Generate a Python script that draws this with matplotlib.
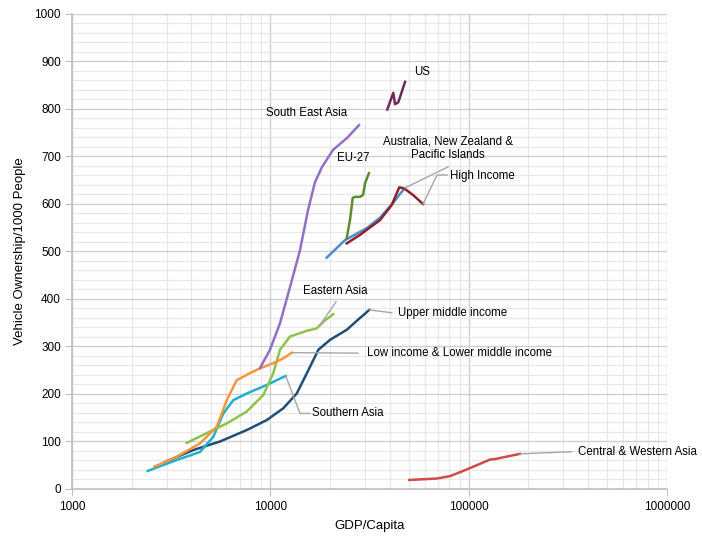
import matplotlib.pyplot as plt
from matplotlib.ticker import FixedLocator, NullFormatter

plt.rcParams['font.family'] = ['Liberation Sans', 'DejaVu Sans']

# GDP per capita vs vehicles per 1000 people, one trajectory per region
us_gdp = [38900, 41700, 42560, 44200, 47800]
us_veh = [799, 834, 810, 814, 857]

sea_gdp = [8880, 9960, 11190, 12570, 14120, 15490, 16800, 18230, 20720, 24370, 28010]
sea_veh = [255, 293, 349, 425, 503, 587, 646, 678, 714, 739, 766]

eu_gdp = [24270, 25220, 26040, 26740, 28330, 29360, 30040, 31450]
eu_veh = [528, 566, 613, 615, 615, 619, 644, 665]

anz_gdp = [19240, 23810, 30620, 35730, 41560, 46680]
anz_veh = [487, 524, 549, 571, 602, 629]

hi_gdp = [24270, 28330, 35730, 40970, 44690, 47240, 52430, 58890]
hi_veh = [517, 535, 566, 598, 635, 633, 619, 600]

ea_gdp = [3787, 4966, 6030, 7603, 9220, 10350, 11190, 12570, 15260, 17140, 18500, 20780]
ea_veh = [97, 121, 138, 163, 198, 244, 293, 321, 333, 338, 352, 368]

low_gdp = [2600, 3373, 4422, 5367, 6030, 6767, 7900, 8875, 10360, 11630, 12820]
low_veh = [47, 68, 96, 131, 187, 229, 244, 254, 265, 275, 287]

sa_gdp = [2408, 3373, 4422, 5159, 5795, 6508, 7603, 9590, 11960]
sa_veh = [38, 61, 78, 110, 159, 187, 201, 219, 238]

um_gdp = [2944, 4090, 5574, 7603, 9590, 11630, 13590, 15550, 17460, 20000, 24270, 28330, 31580]
um_veh = [57, 82, 100, 124, 145, 170, 201, 250, 293, 314, 335, 360, 377]

cw_gdp = [50230, 69070, 80550, 97800, 128200, 135800, 181600]
cw_veh = [19, 22, 27, 41, 62, 63, 74]

fig = plt.figure(figsize=(7.02, 5.38), dpi=100)
ax = fig.add_axes([0.1026, 0.0911, 0.8474, 0.8829])

ax.plot(um_gdp, um_veh, color='#1f4e79', lw=1.8)
ax.plot(sa_gdp, sa_veh, color='#1fb0cf', lw=1.8)
ax.plot(ea_gdp, ea_veh, color='#8cc34b', lw=1.8)
ax.plot(low_gdp, low_veh, color='#f7963f', lw=1.8)
ax.plot(sea_gdp, sea_veh, color='#9370c4', lw=1.8)
ax.plot(anz_gdp, anz_veh, color='#4a8bd3', lw=1.8)
ax.plot(eu_gdp, eu_veh, color='#5b8c2f', lw=1.8)
ax.plot(hi_gdp, hi_veh, color='#8b2525', lw=1.8)
ax.plot(us_gdp, us_veh, color='#6e2a55', lw=1.8)
ax.plot(cw_gdp, cw_veh, color='#d24a48', lw=1.8)

ax.set_xscale('log')
ax.set_xlim(1000, 1000000)
ax.set_ylim(0, 1000)
ax.set_xticks([1000, 10000, 100000, 1000000])
ax.set_xticklabels(['1000', '10000', '100000', '1000000'])
ax.xaxis.set_minor_locator(FixedLocator([m * 10 ** e for e in (3, 4, 5) for m in range(2, 10)]))
ax.xaxis.set_minor_formatter(NullFormatter())
ax.set_yticks(range(0, 1001, 100))
ax.yaxis.set_minor_locator(FixedLocator(range(0, 1001, 20)))

ax.grid(True, which='major', color='#cfcfcf', lw=1.0)
ax.grid(True, which='minor', color='#e8e8e8', lw=0.9)
ax.set_axisbelow(True)
for s in ('top', 'right'):
    ax.spines[s].set_visible(False)
for s in ('left', 'bottom'):
    ax.spines[s].set_color('#bfbfbf')
    ax.spines[s].set_linewidth(1.2)
ax.tick_params(which='major', length=5, color='#bfbfbf', labelsize=8.5, pad=3)
ax.tick_params(which='minor', length=0)
ax.tick_params(axis='x', pad=4)

ax.set_xlabel('GDP/Capita', fontsize=9.5, labelpad=5)
ax.set_ylabel('Vehicle Ownership/1000 People', fontsize=9.5, labelpad=6)

# labels and leader lines
lc = '#a6a6a6'
fs = 8.3
ax.text(53000, 878, 'US', fontsize=fs, va='center')
ax.text(15300, 791, 'South East Asia', fontsize=fs, ha='center', va='center')
ax.text(26300, 697, 'EU-27', fontsize=fs, ha='center', va='center')
ax.text(78700, 718, 'Australia, New Zealand &\nPacific Islands', fontsize=fs,
        ha='center', va='center', linespacing=1.15)
ax.plot([47800, 78700], [634, 678], color=lc, lw=1)
ax.plot([58890, 69300, 77800], [600, 661, 661], color=lc, lw=1)
ax.text(80600, 659, 'High Income', fontsize=fs, va='center')

ax.text(21200, 417, 'Eastern Asia', fontsize=fs, ha='center', va='center')
ax.plot([17800, 21440], [345, 394], color=lc, lw=1)
ax.plot([31580, 40950], [377, 371], color=lc, lw=1)
ax.text(44200, 371, 'Upper middle income', fontsize=fs, va='center')
ax.plot([12820, 27690], [287, 286], color=lc, lw=1)
ax.text(30620, 286, 'Low income & Lower middle income', fontsize=fs, va='center')
ax.plot([11960, 14120, 15860], [238, 159, 159], color=lc, lw=1)
ax.text(16200, 159, 'Southern Asia', fontsize=fs, va='center')
ax.plot([181600, 331000], [74, 78.5], color=lc, lw=1)
ax.text(356000, 78.5, 'Central & Western Asia', fontsize=fs, va='center')

fig.savefig('out.png', dpi=100)
